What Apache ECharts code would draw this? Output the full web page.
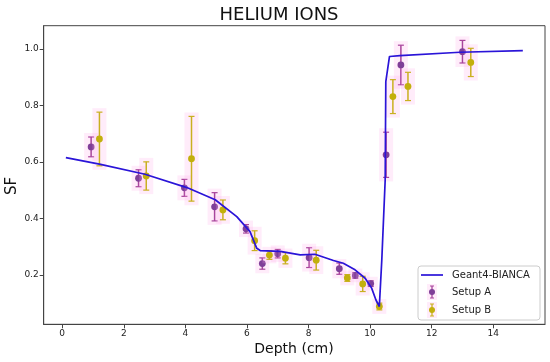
<!DOCTYPE html>
<html>
<head>
<meta charset="utf-8">
<script src="https://cdn.jsdelivr.net/npm/echarts@6/dist/echarts.min.js"></script>
<style>html,body{margin:0;padding:0;background:#fff}#c{width:550px;height:362px}</style>
</head>
<body>
<div id="c"></div>
<script>
// Geant4-BIANCA simulation curve (depth cm, SF)
var geantX = [0.12, 1.21, 2.69, 4.05, 4.97, 5.67, 6.1, 6.32, 6.43, 7.08, 7.73, 8.21, 8.81, 9.13, 9.51, 9.84, 10.05, 10.19, 10.3, 10.38, 10.49, 10.51, 10.63, 10.97, 12.92, 14.96];
var geantY = [0.615, 0.592, 0.556, 0.509, 0.466, 0.406, 0.353, 0.294, 0.286, 0.283, 0.271, 0.273, 0.251, 0.241, 0.218, 0.188, 0.153, 0.111, 0.088, 0.253, 0.536, 0.884, 0.973, 0.976, 0.988, 0.994];

// Setup A measurements
var setupAX = [0.94, 2.48, 3.97, 4.95, 5.97, 6.5, 7.0, 8.02, 9.0, 9.52, 10.02, 10.52, 11.0, 13.0];
var setupAY = [0.653, 0.542, 0.508, 0.441, 0.363, 0.24, 0.275, 0.261, 0.222, 0.198, 0.169, 0.625, 0.943, 0.99];
var setupAErr = [0.035, 0.03, 0.03, 0.05, 0.015, 0.02, 0.015, 0.035, 0.02, 0.01, 0.01, 0.08, 0.07, 0.04];

// Setup B measurements
var setupBX = [1.21, 2.73, 4.2, 5.22, 6.25, 6.73, 7.25, 8.25, 9.26, 9.76, 10.3, 10.74, 11.23, 13.27];
var setupBY = [0.681, 0.55, 0.611, 0.43, 0.321, 0.27, 0.259, 0.252, 0.189, 0.168, 0.088, 0.831, 0.867, 0.952];
var setupBErr = [0.095, 0.05, 0.15, 0.035, 0.035, 0.015, 0.02, 0.035, 0.012, 0.027, 0.012, 0.06, 0.05, 0.05];

var xTicks = [0, 2, 4, 6, 8, 10, 12, 14];
var yTicks = [0.2, 0.4, 0.6, 0.8, 1.0];

function zip3(a, b, c) { return a.map(function (v, i) { return [v, b[i], c[i]]; }); }

function makeErr(barColor, dotColor) {
  return function (params, api) {
    var x = api.value(0), y = api.value(1), e = api.value(2);
    var p = api.coord([x, y]);
    var t = api.coord([x, y + e]);
    var b = api.coord([x, y - e]);
    var cap = 3;
    return {
      type: 'group',
      children: [
        { type: 'rect', shape: { x: p[0] - 7, y: t[1] - 4, width: 14, height: b[1] - t[1] + 8 },
          style: { fill: 'rgba(255,170,230,0.22)' } },
        { type: 'line', shape: { x1: p[0], y1: t[1], x2: p[0], y2: b[1] }, style: { stroke: barColor, lineWidth: 1.5 } },
        { type: 'line', shape: { x1: p[0] - cap, y1: t[1], x2: p[0] + cap, y2: t[1] }, style: { stroke: barColor, lineWidth: 1.2 } },
        { type: 'line', shape: { x1: p[0] - cap, y1: b[1], x2: p[0] + cap, y2: b[1] }, style: { stroke: barColor, lineWidth: 1.2 } },
        { type: 'circle', shape: { cx: p[0], cy: p[1], r: 3.4 }, style: { fill: dotColor } }
      ]
    };
  };
}

var F = 'DejaVu Sans';
var chart = echarts.init(document.getElementById('c'));
chart.setOption({
  animation: false,
  grid: { left: 43.7, right: 5, top: 25.7, bottom: 37.7, show: true, borderColor: '#444', borderWidth: 1, containLabel: false },
  xAxis: {
    type: 'value', min: -0.6, max: 15.68,
    splitLine: { show: false },
    axisLine: { show: true, onZero: false, lineStyle: { color: '#444' } },
    axisTick: { show: true, length: 4, customValues: xTicks, lineStyle: { color: '#444' } },
    axisLabel: { customValues: xTicks, fontFamily: F, fontSize: 9, color: '#222', margin: 5 }
  },
  yAxis: {
    type: 'value', min: 0.025, max: 1.082,
    splitLine: { show: false },
    axisLine: { show: true, onZero: false, lineStyle: { color: '#444' } },
    axisTick: { show: true, length: 4, customValues: yTicks, lineStyle: { color: '#444' } },
    axisLabel: { customValues: yTicks, fontFamily: F, fontSize: 9, color: '#222', margin: 5,
      formatter: function (v) { return v.toFixed(1); } }
  },
  series: [
    { type: 'custom', name: 'Setup A', renderItem: makeErr('#a8449c', '#7f3f98'), data: zip3(setupAX, setupAY, setupAErr), z: 2 },
    { type: 'custom', name: 'Setup B', renderItem: makeErr('#c9b020', '#c2b00c'), data: zip3(setupBX, setupBY, setupBErr), z: 3 },
    { type: 'line', name: 'Geant4-BIANCA', data: geantX.map(function (v, i) { return [v, geantY[i]]; }),
      symbol: 'none', lineStyle: { color: '#2a14d8', width: 1.7 }, z: 4 }
  ],
  graphic: [
    { type: 'text', x: 279, y: 15, style: { text: 'HELIUM IONS', font: '18px "DejaVu Sans"', fill: '#111', align: 'center', verticalAlign: 'middle' } },
    { type: 'text', x: 294, y: 349, style: { text: 'Depth (cm)', font: '14px "DejaVu Sans"', fill: '#111', align: 'center', verticalAlign: 'middle' } },
    { type: 'text', x: 12.5, y: 186, rotation: Math.PI / 2, style: { text: 'SF', font: '15px "DejaVu Sans"', fill: '#111', align: 'center', verticalAlign: 'middle' } },
    { type: 'rect', shape: { x: 418, y: 266, width: 122, height: 54, r: 3 }, style: { fill: 'rgba(255,255,255,0.85)', stroke: '#cccccc', lineWidth: 1 }, z: 10 },
    { type: 'line', shape: { x1: 421, y1: 275, x2: 443, y2: 275 }, style: { stroke: '#2a14d8', lineWidth: 1.7 }, z: 11 },
    { type: 'text', x: 452, y: 275, style: { text: 'Geant4-BIANCA', font: '10px "DejaVu Sans"', fill: '#222', verticalAlign: 'middle' }, z: 11 },
    { type: 'rect', shape: { x: 427, y: 284, width: 10, height: 16 }, style: { fill: 'rgba(255,170,230,0.22)' }, z: 11 },
    { type: 'line', shape: { x1: 432, y1: 286, x2: 432, y2: 298 }, style: { stroke: '#a8449c', lineWidth: 1.3 }, z: 11 },
    { type: 'line', shape: { x1: 430, y1: 286, x2: 434, y2: 286 }, style: { stroke: '#a8449c', lineWidth: 1 }, z: 11 },
    { type: 'line', shape: { x1: 430, y1: 298, x2: 434, y2: 298 }, style: { stroke: '#a8449c', lineWidth: 1 }, z: 11 },
    { type: 'circle', shape: { cx: 432, cy: 292, r: 3 }, style: { fill: '#7f3f98' }, z: 12 },
    { type: 'text', x: 452, y: 292, style: { text: 'Setup A', font: '10px "DejaVu Sans"', fill: '#222', verticalAlign: 'middle' }, z: 11 },
    { type: 'rect', shape: { x: 427, y: 302, width: 10, height: 16 }, style: { fill: 'rgba(255,170,230,0.22)' }, z: 11 },
    { type: 'line', shape: { x1: 432, y1: 304, x2: 432, y2: 316 }, style: { stroke: '#c9b020', lineWidth: 1.3 }, z: 11 },
    { type: 'line', shape: { x1: 430, y1: 304, x2: 434, y2: 304 }, style: { stroke: '#c9b020', lineWidth: 1 }, z: 11 },
    { type: 'line', shape: { x1: 430, y1: 316, x2: 434, y2: 316 }, style: { stroke: '#c9b020', lineWidth: 1 }, z: 11 },
    { type: 'circle', shape: { cx: 432, cy: 310, r: 3 }, style: { fill: '#c2b00c' }, z: 12 },
    { type: 'text', x: 452, y: 310, style: { text: 'Setup B', font: '10px "DejaVu Sans"', fill: '#222', verticalAlign: 'middle' }, z: 11 }
  ]
});
</script>
</body>
</html>
